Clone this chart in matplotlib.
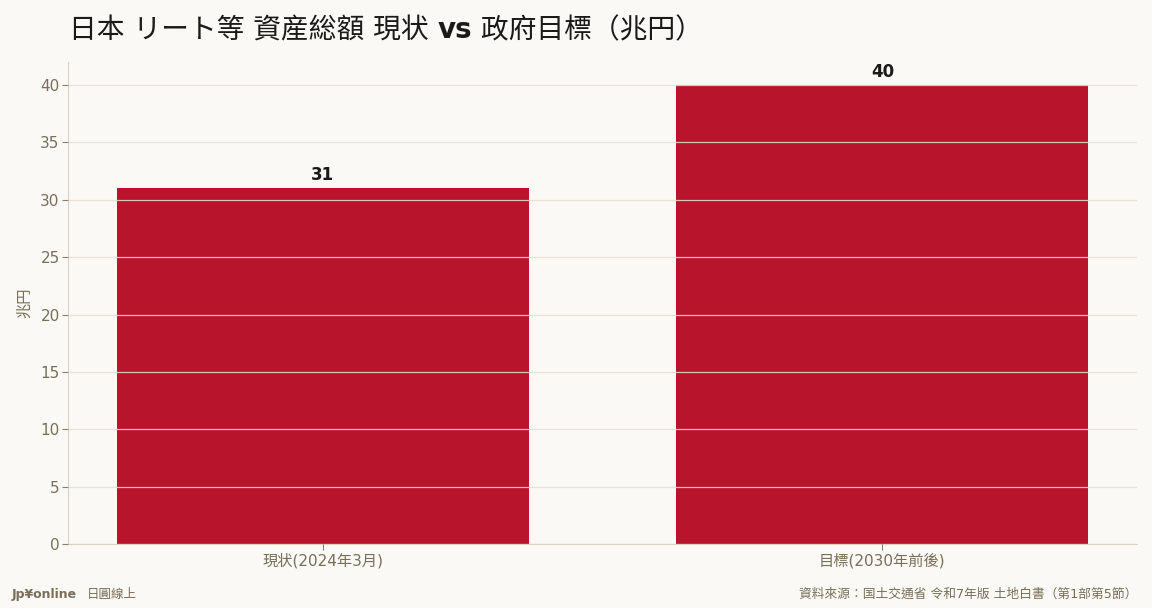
import matplotlib
matplotlib.use('Agg')
import matplotlib.pyplot as plt

plt.rcParams['font.family'] = ['DejaVu Sans', 'Noto Sans CJK TC']

# データ
categories = ['現状(2024年3月)', '目標(2030年前後)']
values = [31, 40]
title_parts = [('日本 リート等 資産総額 現状 ', 'normal'), ('vs', 'bold'), (' 政府目標（兆円）', 'normal')]

bg = '#faf9f5'
bar_color = '#b8152c'
text_color = '#7a6e58'
spine_color = '#d9d3c1'

fig, ax = plt.subplots(figsize=(11.52, 6.08), dpi=100)
fig.patch.set_facecolor(bg)
ax.set_facecolor(bg)
fig.subplots_adjust(left=0.059, right=0.987, top=0.898, bottom=0.105)

x = range(len(categories))
bars = ax.bar(x, values, width=0.736, color=bar_color, zorder=2)
ax.set_xticks(list(x))
ax.set_xticklabels(categories)
ax.set_ylim(0, 42)
ax.set_yticks(range(0, 41, 5))

ax.grid(axis='y', color='#e4dfd0', linewidth=0.9, alpha=0.85, zorder=3)
ax.set_axisbelow(False)

for b, v in zip(bars, values):
    ax.annotate(f'{v}', (b.get_x() + b.get_width() / 2, v), xytext=(0, 3),
                textcoords='offset points', ha='center', va='bottom',
                fontsize=12, fontweight='bold', color='#1a1a1a')

for s in ['top', 'right']:
    ax.spines[s].set_visible(False)
for s in ['left', 'bottom']:
    ax.spines[s].set_color(spine_color)
ax.tick_params(colors=text_color, labelsize=11, length=4, pad=2)
ax.tick_params(axis='both', color='#8a7f6a')
ax.set_ylabel('兆円', color=text_color, fontsize=11, labelpad=6)

# タイトル（vs だけ太字）
renderer = fig.canvas.get_renderer()
tx = 0.06
for txt, w in title_parts:
    t = fig.text(tx, 0.95, txt, fontsize=20, fontweight=w, color='#1a1a1a',
                 va='center', ha='left')
    bb = t.get_window_extent(renderer=renderer)
    tx += bb.width / fig.bbox.width

fig.text(0.01, 0.022, 'Jp¥online', fontsize=9, fontweight='bold', color=text_color, va='center')
fig.text(0.075, 0.022, '日圓線上', fontsize=9, color=text_color, va='center')
fig.text(0.987, 0.022, '資料來源：国土交通省 令和7年版 土地白書（第1部第5節）',
         fontsize=9.2, color=text_color, ha='right', va='center')

plt.savefig('out.png', dpi=100, facecolor=bg)
